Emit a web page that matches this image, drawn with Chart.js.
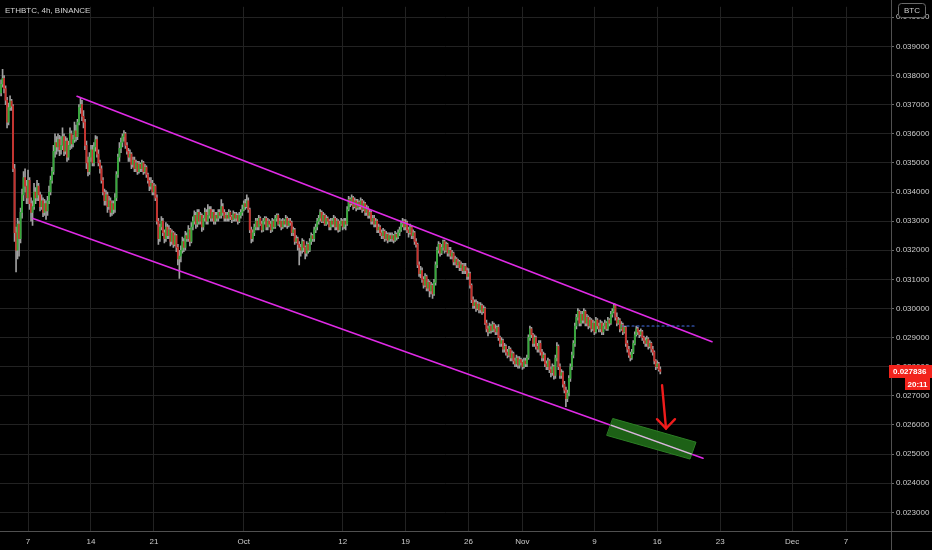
<!DOCTYPE html>
<html>
<head>
<meta charset="utf-8">
<title>ETHBTC, 4h, BINANCE</title>
<script src="https://cdn.jsdelivr.net/npm/chart.js@4.4.1/dist/chart.umd.min.js"></script>
<style>
  html, body { margin: 0; padding: 0; background: #000; overflow: hidden; }
  #wrap { width: 932px; height: 550px; }
</style>
</head>
<body>
<div id="wrap"><canvas id="chart" width="932" height="550"></canvas></div>
<script>
// 4h candles, prices in units of 0.00001 BTC, first candle Sep 4 00:00
const startDay = 3;      // days after Sep 1
const barsPerDay = 6;
const firstOpen = 3740;

const closeE5 = [
  3770,3790,3755,3715,3640,3690,3712,3695,3480,3260,
  3200,3290,3240,3330,3390,3450,3420,3380,3440,3360,
  3330,3350,3400,3380,3420,3390,3350,3370,3330,3360,
  3335,3370,3400,3440,3470,3540,3570,3555,3580,3545,
  3560,3590,3540,3575,3520,3560,3600,3565,3580,3610,
  3590,3640,3690,3700,3660,3640,3560,3500,3470,3520,
  3545,3500,3555,3580,3530,3500,3480,3440,3400,3370,
  3390,3350,3370,3330,3360,3340,3380,3460,3520,3550,
  3570,3590,3600,3560,3540,3520,3530,3495,3510,3480,
  3500,3470,3495,3480,3500,3470,3485,3460,3440,3420,
  3430,3400,3420,3380,3300,3240,3280,3300,3260,3240,
  3280,3250,3270,3230,3260,3220,3250,3210,3170,3180,
  3200,3230,3210,3250,3240,3270,3230,3280,3300,3320,
  3290,3330,3300,3320,3280,3310,3330,3300,3320,3340,
  3310,3330,3300,3320,3310,3330,3320,3350,3330,3310,
  3320,3310,3330,3315,3305,3325,3310,3320,3300,3320,
  3330,3340,3360,3350,3370,3340,3270,3240,3260,3280,
  3300,3280,3310,3290,3270,3300,3310,3280,3300,3290,
  3270,3300,3280,3310,3320,3290,3300,3280,3300,3290,
  3310,3285,3300,3295,3260,3270,3230,3240,3220,3210,
  3200,3230,3210,3190,3220,3200,3230,3250,3240,3270,
  3280,3300,3310,3330,3300,3320,3290,3310,3300,3280,
  3300,3290,3310,3280,3300,3270,3290,3300,3280,3300,
  3290,3340,3375,3360,3380,3350,3370,3345,3365,3350,
  3370,3340,3360,3330,3345,3320,3330,3300,3310,3290,
  3300,3270,3280,3260,3250,3265,3240,3255,3235,3250,
  3240,3250,3235,3255,3245,3260,3270,3290,3300,3280,
  3295,3270,3260,3280,3250,3260,3230,3220,3150,3120,
  3130,3100,3080,3110,3070,3090,3060,3080,3050,3090,
  3150,3200,3220,3190,3210,3230,3200,3220,3190,3200,
  3180,3190,3160,3170,3150,3160,3140,3150,3130,3145,
  3130,3110,3120,3080,3030,3010,3020,3000,3015,2995,
  3010,2990,3000,2950,2930,2920,2940,2925,2945,2930,
  2920,2935,2900,2880,2890,2860,2870,2850,2840,2860,
  2830,2845,2820,2810,2830,2805,2825,2815,2800,2820,
  2810,2830,2900,2930,2910,2880,2900,2870,2860,2880,
  2850,2830,2840,2810,2800,2820,2790,2780,2800,2770,
  2830,2870,2800,2770,2780,2740,2720,2690,2710,2760,
  2800,2840,2880,2940,2970,2990,2950,2980,2960,2990,
  2950,2970,2940,2960,2930,2950,2920,2960,2940,2930,
  2950,2920,2940,2950,2930,2960,2950,2980,2990,3010,
  2970,2950,2960,2930,2945,2920,2935,2880,2860,2840,
  2830,2850,2880,2910,2930,2920,2910,2920,2900,2890,
  2880,2895,2870,2880,2860,2850,2820,2800,2810,2790,
  2783.6
];

const highE5 = [
  3785,3821,3800,3765,3725,3705,3730,3718,3700,3495,
  3280,3310,3300,3345,3410,3470,3480,3440,3475,3450,
  3380,3370,3430,3415,3440,3430,3400,3390,3380,3375,
  3370,3385,3420,3455,3485,3560,3600,3590,3600,3595,
  3590,3620,3600,3590,3585,3575,3620,3610,3595,3640,
  3630,3650,3700,3722,3715,3680,3650,3575,3520,3535,
  3560,3560,3570,3594,3590,3545,3510,3490,3450,3410,
  3405,3400,3385,3380,3370,3370,3395,3470,3530,3570,
  3585,3600,3611,3605,3570,3550,3545,3535,3520,3520,
  3510,3505,3505,3500,3510,3505,3495,3490,3465,3450,
  3450,3440,3430,3425,3390,3310,3290,3316,3310,3270,
  3295,3290,3285,3275,3270,3265,3260,3255,3220,3200,
  3215,3245,3240,3265,3260,3285,3275,3295,3315,3335,
  3330,3340,3340,3330,3325,3320,3345,3340,3357,3350,
  3350,3340,3340,3330,3330,3340,3340,3374,3360,3340,
  3330,3330,3340,3335,3320,3335,3330,3330,3325,3330,
  3340,3355,3370,3375,3390,3380,3345,3280,3270,3290,
  3310,3310,3320,3315,3300,3310,3316,3315,3310,3305,
  3300,3310,3305,3320,3325,3325,3310,3305,3310,3305,
  3320,3315,3310,3310,3300,3280,3275,3250,3245,3230,
  3220,3240,3235,3215,3230,3225,3240,3260,3255,3280,
  3290,3310,3320,3340,3335,3330,3325,3320,3315,3305,
  3310,3310,3320,3315,3310,3305,3300,3310,3305,3310,
  3310,3350,3385,3380,3390,3385,3380,3375,3375,3370,
  3380,3375,3370,3365,3355,3350,3340,3335,3320,3320,
  3310,3305,3290,3285,3270,3275,3270,3265,3260,3260,
  3260,3260,3255,3265,3260,3270,3280,3300,3310,3305,
  3305,3300,3280,3290,3285,3270,3265,3240,3225,3160,
  3145,3140,3110,3120,3115,3100,3095,3090,3085,3100,
  3160,3211,3230,3225,3220,3235,3235,3228,3225,3210,
  3210,3200,3194,3180,3175,3170,3165,3160,3155,3155,
  3155,3140,3137,3125,3085,3040,3030,3030,3025,3020,
  3020,3015,3010,3005,2960,2940,2950,2945,2955,2950,
  2945,2940,2945,2905,2900,2895,2880,2875,2860,2870,
  2865,2855,2850,2830,2840,2835,2835,2830,2825,2830,
  2830,2840,2910,2940,2935,2915,2910,2905,2880,2890,
  2890,2860,2850,2845,2820,2830,2825,2800,2810,2805,
  2840,2883,2875,2810,2790,2785,2750,2730,2720,2770,
  2810,2850,2890,2950,2980,3000,2995,2990,2990,3000,
  2995,2980,2975,2970,2965,2960,2955,2970,2965,2950,
  2960,2955,2950,2960,2955,2970,2965,2990,3000,3018,
  3015,2985,2970,2965,2955,2950,2940,2940,2890,2870,
  2850,2860,2890,2920,2940,2935,2925,2930,2925,2905,
  2900,2905,2900,2890,2885,2870,2855,2825,2820,2815,
  2800
];

const lowE5 = [
  3730,3760,3740,3700,3620,3630,3680,3680,3470,3230,
  3126,3170,3180,3225,3310,3370,3400,3360,3360,3340,
  3300,3285,3340,3360,3370,3370,3335,3340,3315,3320,
  3306,3320,3360,3390,3430,3460,3520,3530,3540,3525,
  3530,3545,3525,3530,3505,3510,3545,3550,3555,3570,
  3575,3580,3630,3670,3645,3620,3545,3480,3455,3460,
  3505,3490,3490,3540,3520,3490,3465,3430,3390,3355,
  3355,3330,3340,3316,3320,3325,3330,3370,3450,3505,
  3535,3555,3575,3550,3530,3505,3505,3480,3485,3470,
  3470,3460,3465,3470,3470,3460,3465,3450,3430,3405,
  3410,3390,3390,3370,3290,3220,3230,3270,3250,3225,
  3230,3240,3240,3215,3220,3210,3215,3195,3150,3103,
  3160,3190,3195,3200,3230,3230,3215,3225,3270,3290,
  3275,3280,3290,3290,3265,3270,3300,3290,3290,3310,
  3300,3300,3290,3290,3300,3300,3310,3310,3320,3300,
  3300,3300,3300,3305,3295,3300,3300,3300,3290,3295,
  3310,3320,3335,3340,3345,3330,3260,3225,3230,3250,
  3270,3270,3270,3285,3262,3265,3290,3270,3270,3280,
  3260,3265,3275,3275,3300,3285,3280,3270,3275,3280,
  3280,3275,3280,3285,3250,3250,3220,3225,3200,3150,
  3180,3190,3195,3170,3180,3190,3195,3220,3230,3230,
  3260,3270,3290,3300,3295,3295,3285,3285,3290,3270,
  3270,3280,3280,3270,3270,3262,3265,3285,3270,3275,
  3270,3285,3335,3350,3355,3340,3345,3335,3340,3340,
  3340,3330,3335,3320,3320,3310,3310,3290,3290,3280,
  3280,3260,3260,3250,3240,3240,3230,3235,3225,3230,
  3230,3230,3225,3230,3235,3240,3250,3265,3280,3270,
  3270,3260,3245,3255,3240,3240,3220,3211,3140,3110,
  3105,3090,3070,3075,3060,3060,3040,3050,3035,3045,
  3080,3140,3190,3180,3185,3200,3190,3195,3180,3180,
  3170,3170,3150,3150,3140,3140,3130,3130,3120,3120,
  3120,3100,3100,3070,3020,3000,3000,2990,2995,2985,
  2985,2980,2985,2945,2920,2906,2915,2915,2920,2920,
  2910,2910,2890,2870,2870,2850,2850,2840,2830,2835,
  2820,2820,2810,2800,2800,2795,2795,2805,2791,2795,
  2800,2800,2825,2890,2900,2870,2870,2860,2850,2850,
  2840,2820,2820,2800,2790,2790,2780,2765,2770,2757,
  2760,2820,2790,2760,2760,2730,2710,2663,2680,2700,
  2750,2790,2830,2870,2930,2960,2940,2940,2950,2950,
  2940,2940,2930,2935,2920,2925,2910,2915,2930,2920,
  2920,2910,2910,2930,2925,2925,2940,2945,2970,2985,
  2960,2940,2945,2920,2925,2910,2915,2870,2850,2832,
  2820,2825,2845,2875,2905,2910,2900,2905,2890,2880,
  2870,2870,2860,2865,2850,2840,2810,2790,2795,2785,
  2775
];

// axis ticks (x in days after Sep 1)
const xTickDays = [6, 13, 20, 30, 41, 48, 55, 61, 69, 76, 83, 91, 97];
const xTickLabels = ['7', '14', '21', 'Oct', '12', '19', '26', 'Nov', '9', '16', '23', 'Dec', '7'];
const yTicks = [0.023, 0.024, 0.025, 0.026, 0.027, 0.028, 0.029, 0.030, 0.031,
                0.032, 0.033, 0.034, 0.035, 0.036, 0.037, 0.038, 0.039, 0.040];

// drawings, as [day, price]
const lastPrice = 0.027836;
const countdown = '20:11';
const upperChannel = [[11.45, 0.03729], [82.09, 0.02886]];
const lowerChannel = [[6.55, 0.03309], [81.09, 0.02486]];
const resistance = [[72.08, 0.0294], [80.42, 0.0294]];
const targetZone = [[71.08, 0.02622], [80.31, 0.02541], [79.64, 0.02483], [70.41, 0.02564]];
const arrowShaft = [[76.53, 0.02737], [76.97, 0.02588]];
const arrowHead = [[75.97, 0.02620], [76.97, 0.02588], [77.97, 0.02620]];

const UP = '#35a83a';
const DOWN = '#c8302c';
const WICK = '#a0a0a0';
const GRID = '#222222';
const TEXT = '#cccccc';
const MAGENTA = '#e02ae6';
const FONT = { family: "'Liberation Sans', Arial, sans-serif", size: 8 };

const opens = closeE5.map((c, i) => i === 0 ? firstOpen : closeE5[i - 1]);
const times = closeE5.map((_, i) => startDay + i / barsPerDay);
const wicks = times.map((t, i) => ({ x: t, y: [lowE5[i] / 1e5, highE5[i] / 1e5] }));
const bodies = times.map((t, i) => ({ x: t, y: [opens[i] / 1e5, closeE5[i] / 1e5] }));
const bodyColors = closeE5.map((c, i) => c >= opens[i] ? UP : DOWN);

const overlay = {
  id: 'overlay',
  afterDatasetsDraw(chart) {
    const { ctx, scales: { x, y } } = chart;
    const px = p => [x.getPixelForValue(p[0]), y.getPixelForValue(p[1])];
    const path = pts => {
      ctx.beginPath();
      pts.forEach((p, i) => { const [a, b] = px(p); i ? ctx.lineTo(a, b) : ctx.moveTo(a, b); });
    };
    ctx.save();
    ctx.lineCap = 'round';

    ctx.strokeStyle = MAGENTA;
    ctx.lineWidth = 1.6;
    path(upperChannel); ctx.stroke();
    path(lowerChannel); ctx.stroke();

    // green target box
    path(targetZone); ctx.closePath();
    ctx.fillStyle = 'rgba(32,105,24,0.92)';
    ctx.fill();
    ctx.strokeStyle = '#2c7f25';
    ctx.lineWidth = 1;
    ctx.stroke();
    ctx.save();
    path(targetZone); ctx.closePath(); ctx.clip();
    ctx.strokeStyle = '#d9b6dc';
    ctx.lineWidth = 1.4;
    path(lowerChannel); ctx.stroke();
    ctx.restore();

    // dotted level
    ctx.strokeStyle = '#4470e8';
    ctx.lineWidth = 1.2;
    ctx.setLineDash([2, 3]);
    path(resistance); ctx.stroke();
    ctx.setLineDash([]);

    // arrow
    ctx.strokeStyle = '#f01c1c';
    ctx.lineWidth = 2.4;
    path(arrowShaft); ctx.stroke();
    ctx.lineJoin = 'miter';
    path(arrowHead); ctx.stroke();
    ctx.restore();
  },
  afterDraw(chart) {
    const { ctx, chartArea, scales: { y } } = chart;
    const w = chart.width, h = chart.height;
    ctx.save();
    // axis borders
    ctx.strokeStyle = '#505050';
    ctx.lineWidth = 1;
    ctx.beginPath();
    ctx.moveTo(chartArea.right + 0.5, 0); ctx.lineTo(chartArea.right + 0.5, h);
    ctx.moveTo(0, chartArea.bottom + 0.5); ctx.lineTo(w, chartArea.bottom + 0.5);
    ctx.stroke();

    // last price label + countdown
    const yp = Math.round(y.getPixelForValue(lastPrice));
    const left = chartArea.right - 2;
    ctx.fillStyle = '#f2231c';
    ctx.fillRect(left, yp - 7, w - left, 13);
    ctx.fillRect(left + 16, yp + 6, w - left - 18, 12);
    ctx.fillStyle = '#ffffff';
    ctx.font = `bold 8px ${FONT.family}`;
    ctx.textBaseline = 'middle';
    ctx.textAlign = 'left';
    ctx.fillText(lastPrice.toFixed(6), left + 4, yp);
    ctx.textAlign = 'center';
    ctx.fillText(countdown, left + 16 + (w - left - 18) / 2, yp + 12.5);

    // BTC badge
    ctx.fillStyle = '#000';
    ctx.strokeStyle = '#6a6a6a';
    ctx.beginPath();
    ctx.roundRect(898.5, 3.5, 27, 14, 3);
    ctx.fill(); ctx.stroke();
    ctx.fillStyle = TEXT;
    ctx.font = `8px ${FONT.family}`;
    ctx.fillText('BTC', 912, 10.5);

    // title
    ctx.textAlign = 'left';
    ctx.fillStyle = '#d6d6d6';
    ctx.font = `8px ${FONT.family}`;
    ctx.fillText('ETHBTC, 4h, BINANCE', 5, 10.5);
    ctx.restore();
  }
};

new Chart(document.getElementById('chart'), {
  type: 'bar',
  data: {
    datasets: [
      { data: wicks, backgroundColor: WICK, barThickness: 1, grouped: false, order: 2 },
      { data: bodies, backgroundColor: bodyColors, barThickness: 1.2, minBarLength: 1, grouped: false, order: 1 },
    ],
  },
  options: {
    responsive: false,
    animation: false,
    layout: { padding: 0 },
    plugins: { legend: { display: false }, tooltip: { enabled: false } },
    scales: {
      x: {
        type: 'linear', min: 2.88, max: 102, offset: false,
        grid: { color: GRID, drawTicks: false, offset: false },
        border: { display: false },
        afterBuildTicks: s => { s.ticks = xTickDays.map(v => ({ value: v })); },
        afterFit: s => { s.height = 19; },
        ticks: { callback: (v, i) => xTickLabels[i], autoSkip: false, maxRotation: 0, color: TEXT, font: FONT, padding: 6 },
      },
      y: {
        type: 'linear', position: 'right', min: 0.02236, max: 0.04036,
        grid: { color: GRID, tickColor: '#6a6a6a', tickLength: 3 },
        border: { display: false },
        afterBuildTicks: s => { s.ticks = yTicks.map(v => ({ value: v })); },
        afterFit: s => { s.width = 41; },
        ticks: { callback: v => v.toFixed(6), color: TEXT, font: FONT, padding: 2 },
      },
    },
  },
  plugins: [overlay],
});
</script>
</body>
</html>
